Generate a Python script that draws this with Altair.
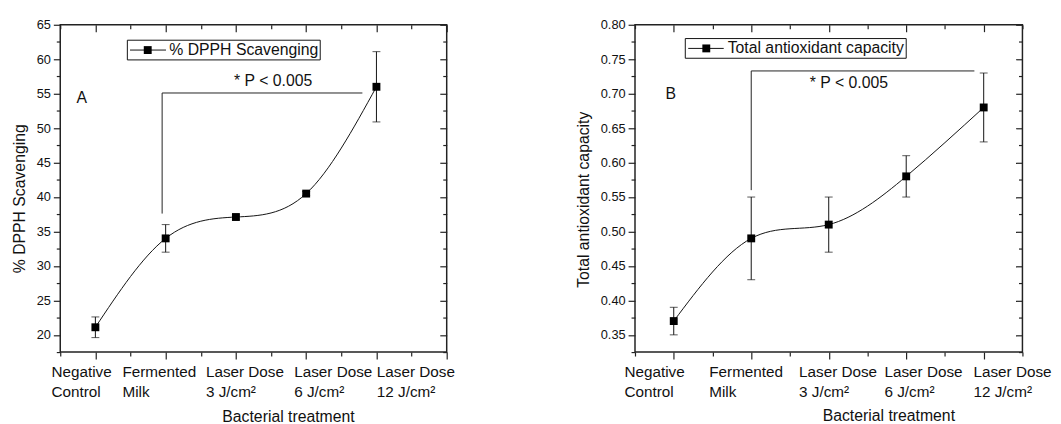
import altair as alt
import pandas as pd

# ---------------- data ----------------
x_index = [1, 2, 3, 4, 5]
label_line1 = ["Negative", "Fermented", "Laser Dose", "Laser Dose", "Laser Dose"]
label_line2 = ["Control", "Milk", "3 J/cm²", "6 J/cm²", "12 J/cm²"]

dpph_mean = [21.1, 34.0, 37.1, 40.5, 56.0]
dpph_err = [1.5, 2.0, 0.3, 0.3, 5.1]

tac_mean = [0.37, 0.49, 0.51, 0.58, 0.68]
tac_err = [0.02, 0.06, 0.04, 0.03, 0.05]

x_title = "Bacterial treatment"
sig_text = "* P < 0.005"

# ---------------- style / layout ----------------
FONT = "Liberation Sans"
INK = "#111111"
W_A, W_B, H = 392, 393, 332


def rng(start, stop, step, nd=4):
    out, v = [], start
    while v <= stop + 1e-9:
        out.append(round(v, nd))
        v += step
    return out


def axis(orient, values, size, **kw):
    base = dict(orient=orient, values=values, tickSize=size, labels=False,
                domain=False, grid=False, ticks=True, tickColor="#222222",
                tickWidth=1.2, title=None)
    base.update(kw)
    return alt.Axis(**base)


def panel(mean, err, cfg):
    xs = alt.Scale(domain=cfg["xdom"], nice=False, zero=False)
    ys = alt.Scale(domain=cfg["ydom"], nice=False, zero=False)
    df = pd.DataFrame({
        "x": x_index,
        "m": mean,
        "lo": [a - b for a, b in zip(mean, err)],
        "hi": [a + b for a, b in zip(mean, err)],
    })
    caps_df = pd.DataFrame({"x": x_index * 2,
                            "v": list(df["lo"]) + list(df["hi"])})

    inward = alt.ExprRef(expr="-7")
    inward_minor = alt.ExprRef(expr="-4")

    x_bot_major = axis("bottom", cfg["xmaj"], 7, title=x_title,
                       titleX=cfg["xtitle_x"], titleY=cfg["xtitle_y"],
                       titleAngle=0, titleAlign="center", titleBaseline="middle")
    x_bot_minor = axis("bottom", cfg["xmin"], 4)
    x_top_major = axis("top", cfg["xmaj"], inward)
    x_top_minor = axis("top", cfg["xmin"], inward_minor)
    y_left_major = axis("left", cfg["ymaj"], 7, labels=True, format=cfg["yfmt"],
                        labelPadding=3, title=cfg["ytitle"],
                        titleX=cfg["ytitle_x"], titleY=cfg["ytitle_y"],
                        titleAngle=270, titleAlign="center", titleBaseline="middle")
    y_left_minor = axis("left", cfg["ymin"], 4)
    y_right_major = axis("right", cfg["ymaj"], inward)
    y_right_minor = axis("right", cfg["ymin"], inward_minor)

    line = alt.Chart(df).mark_line(interpolate="natural", color=INK, strokeWidth=1).encode(
        x=alt.X("x:Q", scale=xs, axis=x_bot_major),
        y=alt.Y("m:Q", scale=ys, axis=y_left_major),
    )
    bars = alt.Chart(df).mark_rule(color=INK, strokeWidth=1).encode(
        x=alt.X("x:Q", scale=xs, axis=x_bot_minor),
        y=alt.Y("lo:Q", scale=ys, axis=y_left_minor),
        y2="hi:Q",
    )
    caps = alt.Chart(caps_df).mark_tick(orient="horizontal", size=8, thickness=1, color=INK).encode(
        x=alt.X("x:Q", scale=xs, axis=x_top_minor),
        y=alt.Y("v:Q", scale=ys, axis=y_right_minor),
    )
    pts = alt.Chart(df).mark_square(size=64, color="black", opacity=1).encode(
        x=alt.X("x:Q", scale=xs, axis=x_top_major),
        y=alt.Y("m:Q", scale=ys, axis=y_right_major),
    )

    a = cfg["ann"]
    bracket_df = pd.DataFrame({
        "x": [a["bx1"], a["bx1"]], "x2": [a["bx1"], a["bx2"]],
        "y": [a["by1"], a["by2"]], "y2": [a["by2"], a["by2"]],
    })
    bracket = alt.Chart(bracket_df).mark_rule(color="#222222", strokeWidth=1).encode(
        x=alt.X("x:Q", scale=xs, axis=None), x2="x2:Q",
        y=alt.Y("y:Q", scale=ys, axis=None), y2="y2:Q",
    )
    txt_df = pd.DataFrame({"x": [a["tx"], a["px"]], "y": [a["ty"], a["py"]],
                           "t": [sig_text, cfg["letter"]]})
    texts = alt.Chart(txt_df).mark_text(font=FONT, fontSize=16, color=INK,
                                        align="center", baseline="middle").encode(
        x=alt.X("x:Q", scale=xs, axis=None),
        y=alt.Y("y:Q", scale=ys, axis=None),
        text="t:N",
    )

    lg = cfg["legend"]
    box_df = pd.DataFrame({"x": [lg["x1"]], "x2": [lg["x2"]], "y": [lg["y1"]], "y2": [lg["y2"]]})
    box = alt.Chart(box_df).mark_rect(fill="white", stroke=INK, strokeWidth=1).encode(
        x=alt.X("x:Q", scale=xs, axis=None), x2="x2:Q",
        y=alt.Y("y:Q", scale=ys, axis=None), y2="y2:Q",
    )
    sym_df = pd.DataFrame({"x": [lg["sx1"]], "x2": [lg["sx2"]], "y": [lg["yc"]],
                           "sq": [lg["sq"]], "tx": [lg["tx"]], "t": [cfg["series"]]})
    sym_line = alt.Chart(sym_df).mark_rule(color=INK, strokeWidth=1).encode(
        x=alt.X("x:Q", scale=xs, axis=None), x2="x2:Q",
        y=alt.Y("y:Q", scale=ys, axis=None),
    )
    sym_sq = alt.Chart(sym_df).mark_square(size=64, color="black", opacity=1).encode(
        x=alt.X("sq:Q", scale=xs, axis=None),
        y=alt.Y("y:Q", scale=ys, axis=None),
    )
    sym_txt = alt.Chart(sym_df).mark_text(font=FONT, fontSize=16, color=INK,
                                          align="left", baseline="middle").encode(
        x=alt.X("tx:Q", scale=xs, axis=None),
        y=alt.Y("y:Q", scale=ys, axis=None),
        text="t:N",
    )

    lab_df = pd.DataFrame({
        "pos": [i + s for i, s in zip(x_index, cfg["label_shift"])],
        "lab": [p + "\n" + q for p, q in zip(label_line1, label_line2)],
    })
    labels = alt.Chart(lab_df).mark_text(font=FONT, fontSize=15.5, color=INK, align="left",
                                         baseline="top", lineBreak="\n", lineHeight=21).encode(
        x=alt.X("pos:Q", scale=xs, axis=None),
        y=alt.value(H + 13),
        text="lab:N",
    )

    return alt.layer(line, bars, caps, bracket, texts, box, sym_line, sym_txt,
                     sym_sq, pts, labels).resolve_axis(
        x="independent", y="independent").properties(width=cfg["w"], height=H)


cfg_a = dict(
    w=W_A, xdom=[0.5, 6.0], ydom=[17.5, 65],
    xmaj=[1, 2, 3, 4, 5, 6], xmin=rng(0.5, 5.5, 1.0),
    ymaj=rng(20, 65, 5), ymin=rng(17.5, 62.5, 5),
    yfmt="d", ytitle="% DPPH Scavenging",
    ytitle_x=-41, ytitle_y=176, xtitle_x=231, xtitle_y=65,
    letter="A", series="% DPPH Scavenging",
    label_shift=[-0.626, -0.615, -0.427, -0.17, 0.006],
    ann=dict(bx1=1.95, bx2=4.8, by1=37.6, by2=55.1, tx=3.53, ty=56.8, px=0.805, py=54.3),
    legend=dict(x1=1.455, x2=4.2, y1=62.76, y2=59.9, sx1=1.493, sx2=2.005,
                sq=1.745, yc=61.33, tx=2.052),
)
cfg_b = dict(
    w=W_B, xdom=[0.5, 5.5], ydom=[0.325, 0.80],
    xmaj=[1, 2, 3, 4, 5], xmin=rng(0.5, 5.5, 1.0),
    ymaj=rng(0.35, 0.80, 0.05), ymin=rng(0.325, 0.775, 0.05),
    yfmt=".2f", ytitle="Total antioxidant capacity",
    ytitle_x=-52, ytitle_y=177, xtitle_x=257, xtitle_y=64,
    letter="B", series="Total antioxidant capacity",
    label_shift=[-0.636, -0.542, -0.383, -0.28, -0.132],
    ann=dict(bx1=2.0, bx2=4.88, by1=0.56, by2=0.733, tx=3.26, ty=0.716, px=0.96, py=0.70),
    legend=dict(x1=1.149, x2=4.0, y1=0.78, y2=0.7514, sx1=1.187, sx2=1.645,
                sq=1.42, yc=0.7657, tx=1.696),
)

chart = alt.hconcat(panel(dpph_mean, dpph_err, cfg_a),
                    panel(tac_mean, tac_err, cfg_b), spacing=120).properties(
    padding={"left": 3, "top": 7, "right": 0, "bottom": 0},
    background="white",
).configure(font=FONT).configure_view(
    stroke="#222222", strokeWidth=1.5
).configure_axis(
    labelFont=FONT, labelFontSize=13, labelColor=INK,
    titleFont=FONT, titleFontSize=16, titleFontWeight="normal", titleColor=INK,
)

chart.save("out.html", embed_options={"renderer": "svg", "actions": False})
